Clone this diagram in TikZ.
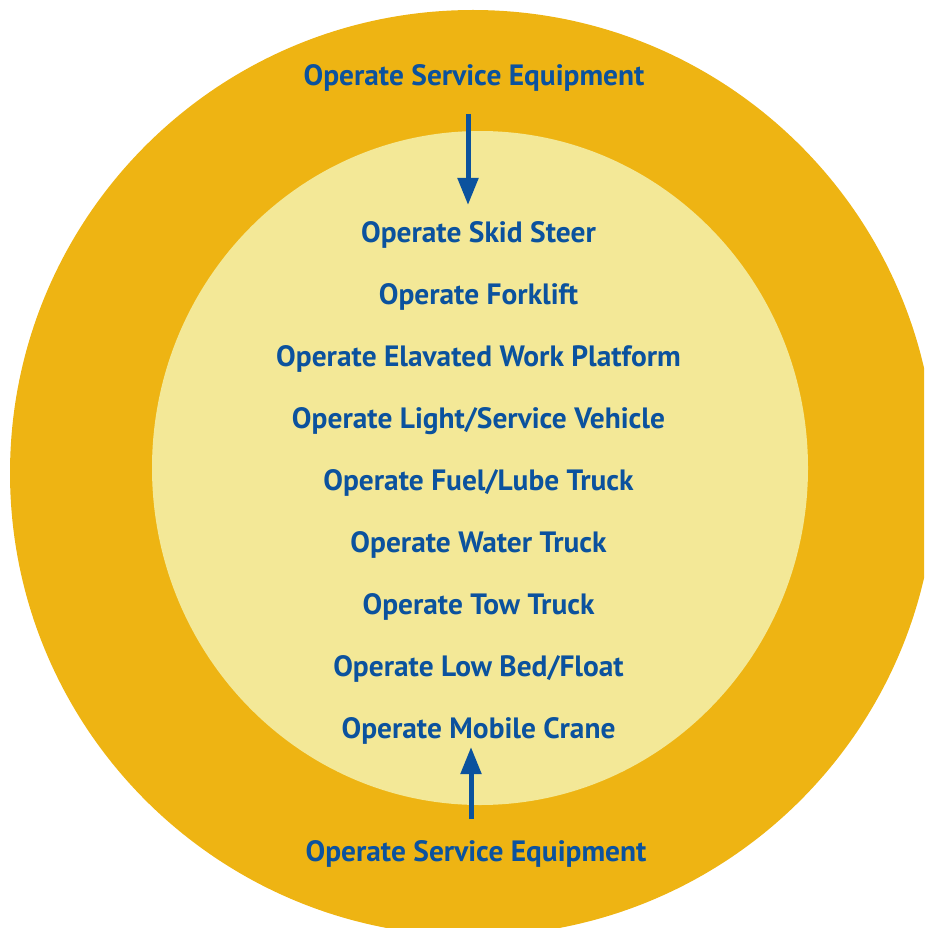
\documentclass[tikz,border=0pt]{standalone}
\usepackage{fontspec}
\setmainfont{PT Sans}
\usetikzlibrary{arrows.meta}
\definecolor{ringgold}{RGB}{238,180,19}
\definecolor{corecream}{RGB}{243,232,151}
\definecolor{tradeblue}{RGB}{11,82,158}

\begin{document}
\begin{tikzpicture}[x=1pt,y=-1pt]
        \tikzset{
        svc node/.style={font=\bfseries\fontsize{29.4}{31}\selectfont,text=tradeblue,anchor=base,inner sep=0},
        svc edge/.style={draw=tradeblue,line width=5pt,-{Triangle[length=27pt,width=20pt]}}
        }
        \clip (0,0) rectangle (924,928);
        \fill[ringgold] (473,473) circle [radius=463];
        \fill[corecream] (480,468) ellipse [x radius=328, y radius=337];

        \node[svc node] (top) at (474,86) {Operate Service Equipment};
        \node[svc node] (1) at (478.5,242) {Operate Skid Steer};
        \node[svc node] (2) at (478.5,304) {Operate Forklift};
        \node[svc node] (3) at (478.5,366) {Operate Elavated Work Platform};
        \node[svc node] (4) at (478.5,428) {Operate Light/Service Vehicle};
        \node[svc node] (5) at (478.5,490) {Operate Fuel/Lube Truck};
        \node[svc node] (6) at (478.5,552) {Operate Water Truck};
        \node[svc node] (7) at (478.5,614) {Operate Tow Truck};
        \node[svc node] (8) at (478.5,676) {Operate Low Bed/Float};
        \node[svc node] (9) at (478.5,738) {Operate Mobile Crane};
        \node[svc node] (bottom) at (476,861) {Operate Service Equipment};

        \coordinate (topfrom) at (468,114);
        \coordinate (topto) at (468,205);
        \coordinate (botfrom) at (471,819);
        \coordinate (botto) at (471,747);

        \path
        (topfrom) edge[svc edge] (topto)
        (botfrom) edge[svc edge] (botto)
        ;
    \end{tikzpicture}
\end{document}
